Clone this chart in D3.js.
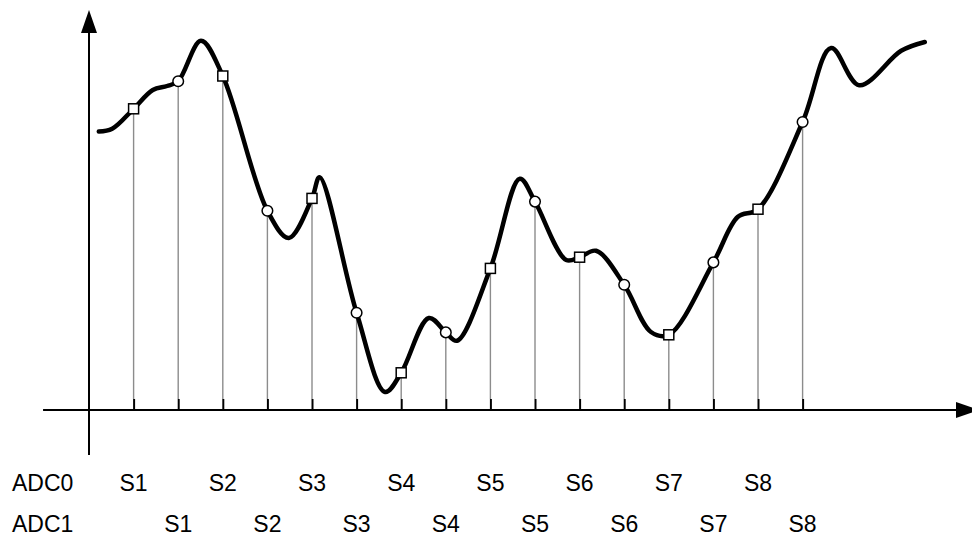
<!DOCTYPE html>
<meta charset="utf-8">
<script src="https://d3js.org/d3.v7.min.js"></script>
<style>
body { margin: 0; background: #fff; }
text { font-family: Arial, "Liberation Sans", sans-serif; font-size: 23px; fill: #000; }
</style>
<div id="chart"></div>
<script>

// ADC0 samples (squares) and ADC1 samples (circles), time in sample periods
var adc0Labels = ["S1", "S2", "S3", "S4", "S5", "S6", "S7", "S8"];
var adc0Times  = [1, 3, 5, 7, 9, 11, 13, 15];
var adc0Values = [75.3, 83.5, 52.9, 9.3, 35.4, 38.2, 18.8, 50.2];

var adc1Labels = ["S1", "S2", "S3", "S4", "S5", "S6", "S7", "S8"];
var adc1Times  = [2, 4, 6, 8, 10, 12, 14, 16];
var adc1Values = [82.2, 49.8, 24.3, 19.4, 52.1, 31.3, 36.9, 72];

// shape of the analog signal between the samples
var signalTimes  = [0.22, 0.52, 1.43, 1.75, 2.51, 4.48, 5.17, 6.64, 7.62, 8.25, 9.66, 10.7, 11.37, 12.6, 14.55, 16.64, 17.27, 18.21, 18.74];
var signalValues = [69.6, 70.3, 80, 81, 92.3, 43, 58.2, 4.5, 23, 17.3, 57.8, 37.5, 39.8, 19.5, 48.3, 90.5, 81.2, 89.8, 92];

var width = 972, height = 537;

var svg = d3.select("#chart").append("svg")
    .attr("width", width)
    .attr("height", height);

var x = d3.scaleLinear().domain([0, 16]).range([89, 802.6]);
var y = d3.scaleLinear().domain([0, 100]).range([410, 10]);

// axes
svg.append("line")
    .attr("x1", x(-1.03)).attr("x2", 958)
    .attr("y1", y(0)).attr("y2", y(0))
    .attr("stroke", "#000").attr("stroke-width", 2);
svg.append("path")
    .attr("d", "M956," + (y(0) - 8) + "L979," + y(0) + "L956," + (y(0) + 8) + "Z")
    .attr("fill", "#000");

svg.append("line")
    .attr("x1", x(0)).attr("x2", x(0))
    .attr("y1", 455).attr("y2", 31)
    .attr("stroke", "#000").attr("stroke-width", 2);
svg.append("path")
    .attr("d", "M" + (x(0) - 8) + ",33L" + x(0) + ",10L" + (x(0) + 8) + ",33Z")
    .attr("fill", "#000");

// sample points
var adc0 = adc0Times.map(function(t, i) { return {t: t, v: adc0Values[i], label: adc0Labels[i]}; });
var adc1 = adc1Times.map(function(t, i) { return {t: t, v: adc1Values[i], label: adc1Labels[i]}; });
var samples = adc0.concat(adc1).sort(function(a, b) { return a.t - b.t; });

// drop lines from the signal to the axis
svg.append("g")
  .selectAll("line")
  .data(samples)
  .enter().append("line")
    .attr("x1", function(d) { return x(d.t); })
    .attr("x2", function(d) { return x(d.t); })
    .attr("y1", function(d) { return y(d.v); })
    .attr("y2", y(0) - 11)
    .attr("stroke", "#8c8c8c")
    .attr("stroke-width", 1.4);

// tick marks
var tickAxis = d3.axisBottom(x)
    .tickValues(samples.map(function(d) { return d.t; }))
    .tickSize(-11)
    .tickFormat("");
var tg = svg.append("g")
    .attr("transform", "translate(0," + y(0) + ")")
    .call(tickAxis);
tg.select(".domain").remove();
tg.selectAll(".tick line").attr("stroke", "#000").attr("stroke-width", 2);

// the signal curve
var signal = signalTimes.map(function(t, i) { return {t: t, v: signalValues[i]}; })
    .concat(samples)
    .sort(function(a, b) { return a.t - b.t; });

var line = d3.line()
    .x(function(d) { return x(d.t); })
    .y(function(d) { return y(d.v); })
    .curve(d3.curveCatmullRom.alpha(0.5));

svg.append("path")
    .datum(signal)
    .attr("d", line)
    .attr("fill", "none")
    .attr("stroke", "#000")
    .attr("stroke-width", 4.5)
    .attr("stroke-linecap", "round")
    .attr("stroke-linejoin", "round");

// markers
svg.append("g")
  .selectAll("rect")
  .data(adc0)
  .enter().append("rect")
    .attr("x", function(d) { return x(d.t) - 5; })
    .attr("y", function(d) { return y(d.v) - 5; })
    .attr("width", 10)
    .attr("height", 10)
    .attr("fill", "#fff")
    .attr("stroke", "#000")
    .attr("stroke-width", 1.5);

svg.append("g")
  .selectAll("circle")
  .data(adc1)
  .enter().append("circle")
    .attr("cx", function(d) { return x(d.t); })
    .attr("cy", function(d) { return y(d.v); })
    .attr("r", 5.3)
    .attr("fill", "#fff")
    .attr("stroke", "#000")
    .attr("stroke-width", 1.5);

// labels
svg.append("text").attr("x", 12).attr("y", 491).text("ADC0");
svg.append("text").attr("x", 12).attr("y", 532).text("ADC1");

svg.append("g")
  .selectAll("text")
  .data(adc0)
  .enter().append("text")
    .attr("x", function(d) { return x(d.t); })
    .attr("y", 491)
    .attr("text-anchor", "middle")
    .text(function(d) { return d.label; });

svg.append("g")
  .selectAll("text")
  .data(adc1)
  .enter().append("text")
    .attr("x", function(d) { return x(d.t); })
    .attr("y", 532)
    .attr("text-anchor", "middle")
    .text(function(d) { return d.label; });

</script>
